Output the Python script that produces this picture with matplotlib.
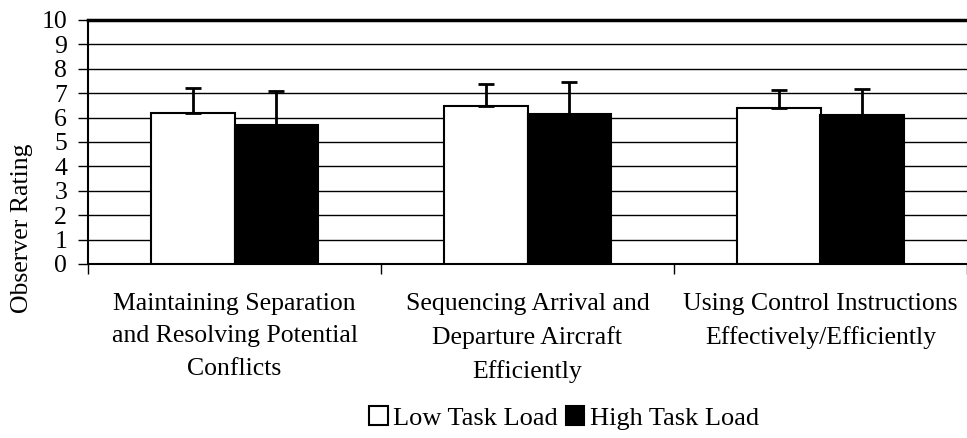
import numpy as np
import matplotlib.pyplot as plt
from matplotlib.patches import Patch

plt.rcParams["font.family"] = ["Liberation Serif", "DejaVu Serif"]
plt.rcParams["font.size"] = 18.5

# ---- data ----
categories = [
    "Maintaining Separation\nand Resolving Potential\nConflicts",
    "Sequencing Arrival and\nDeparture Aircraft\nEfficiently",
    "Using Control Instructions\nEffectively/Efficiently",
]
low_load = [6.18, 6.48, 6.40]
high_load = [5.69, 6.13, 6.10]
low_err = [1.02, 0.88, 0.74]
high_err = [1.42, 1.31, 1.08]

# ---- plot ----
W, H = 967, 438
fig = plt.figure(figsize=(W / 100, H / 100), dpi=100)
ax = fig.add_axes([88 / W, 1 - 264 / H, (W - 88) / W, (264 - 20) / H])

x = np.arange(len(categories))
w = 0.286
err_style = dict(elinewidth=2, capsize=5.5, capthick=2, ecolor="black")
ax.bar(x - w / 2, low_load, w, color="white", edgecolor="black", linewidth=1.5,
       yerr=[np.zeros(3), low_err], error_kw=err_style, label="Low Task Load", zorder=3)
ax.bar(x + w / 2, high_load, w, color="black", edgecolor="black", linewidth=1.5,
       yerr=[np.zeros(3), high_err], error_kw=err_style, label="High Task Load", zorder=3)

ax.set_ylim(0, 10)
ax.set_yticks(range(0, 11))
ax.yaxis.grid(True, color="black", linewidth=1)
ax.set_axisbelow(True)
ax.set_xlim(-0.5, 2.5 - 3 / 294)

# category boundaries as ticks, labels at centres
ax.set_xticks([-0.5, 0.5, 1.5, 2.5])
ax.set_xticklabels([])
ax.set_xticks(x, minor=True)
ax.set_xticklabels(categories, minor=True, linespacing=1.6)
ax.tick_params(axis="x", which="major", length=7, width=1, direction="out")
ax.tick_params(axis="x", which="minor", length=0, pad=21)
ax.tick_params(axis="y", length=7, width=1, direction="out", pad=8)

for s in ["top", "right"]:
    ax.spines[s].set_visible(False)
ax.spines["left"].set_linewidth(1.5)
ax.spines["bottom"].set_linewidth(1.5)
ax.axhline(10, color="black", linewidth=2.5, zorder=4, clip_on=False)

# axis title sits low, centred on plot area plus category labels
fig.text(22 / W, 1 - 228 / H, "Observer Rating", rotation=90, ha="center", va="center")

handles = [Patch(facecolor="white", edgecolor="black", linewidth=1.5),
           Patch(facecolor="black", edgecolor="black", linewidth=1.5)]
fig.legend(handles, ["Low Task Load", "High Task Load"], loc="center",
           bbox_to_anchor=(564 / W, 1 - 418 / H), ncol=2, frameon=False,
           prop={"size": 19},
           handlelength=0.7, handleheight=0.7, handletextpad=0.2, columnspacing=0.3)

fig.savefig("out.png", dpi=100)
